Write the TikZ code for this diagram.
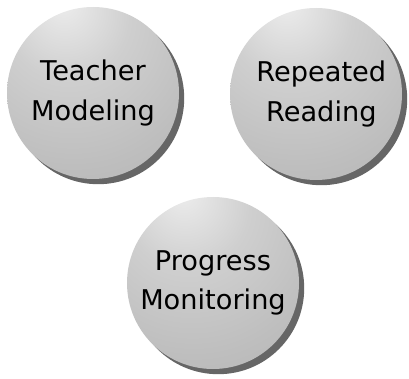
\documentclass[tikz,border=0pt]{standalone}
\usepackage{fontspec}
\setmainfont{DejaVu Sans}
\usepackage{tikz}
\usetikzlibrary{shadows}

\definecolor{ballhigh}{HTML}{EDEDED}
\definecolor{ballmid}{HTML}{CFCFCF}
\definecolor{ballbase}{HTML}{BEBEBE}
\definecolor{balledge}{HTML}{B2B2B2}
\definecolor{ballshade}{HTML}{666666}

\pgfdeclareradialshading{sphere}{\pgfpoint{-9bp}{27bp}}{%
  color(0bp)=(ballhigh); color(18bp)=(ballmid); color(38bp)=(ballbase);
  color(55bp)=(balledge); color(70bp)=(ballbase); color(100bp)=(ballbase)}

\tikzset{
  ball/.style={circle, minimum size=129pt, inner sep=0pt, shading=sphere,
    drop shadow={opacity=1, fill=ballshade, shadow xshift=3.9pt, shadow yshift=-3.9pt},
    align=center, font=\fontsize{20.4}{29.5}\selectfont}
}

\begin{document}
\begin{tikzpicture}[x=0.75pt, y=0.75pt]
	\useasboundingbox (0,0) rectangle (409,378);

	% Ball 1
	\node[ball] (teacher) at (93,285) {Teacher\\Modeling};

	% Ball 2
	\node[ball] (repeated) at (316,284) {\hspace*{8pt}Repeated\\\hspace*{8pt}Reading};

	% Ball 3
	\node[ball] (progress) at (213,95) {Progress\\Monitoring};

\end{tikzpicture}
\end{document}
